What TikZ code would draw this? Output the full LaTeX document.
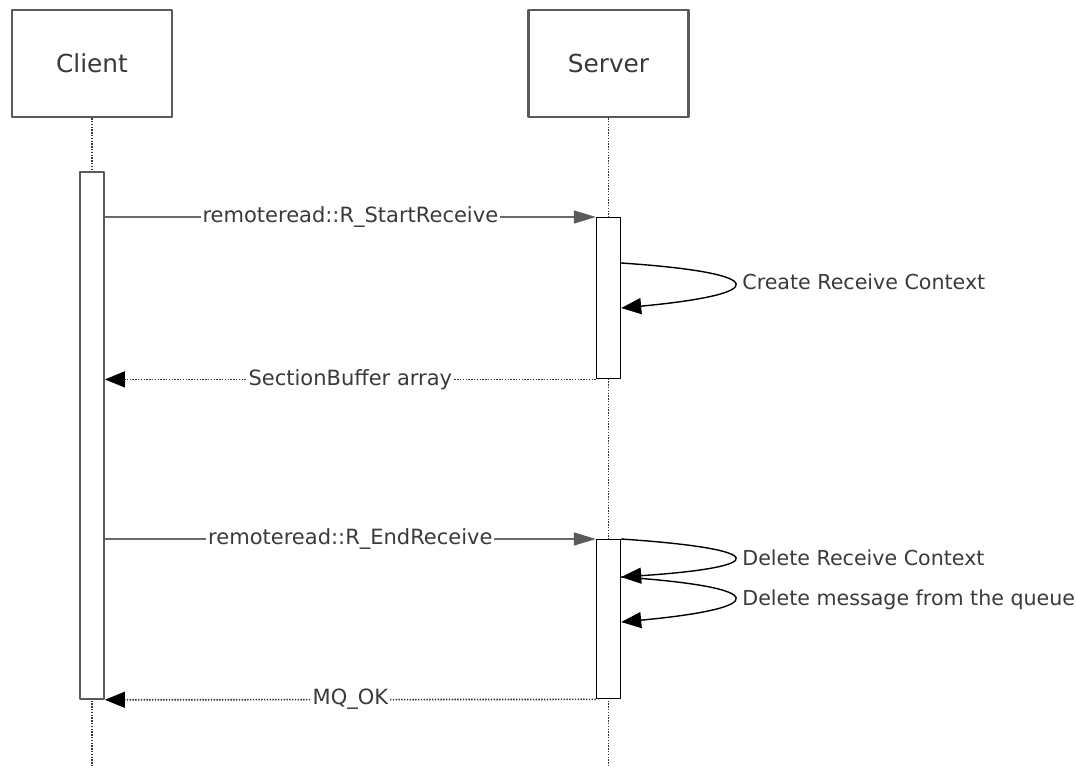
\documentclass[tikz,border=0pt]{standalone}
\usepackage{fontspec}
\setmainfont{DejaVu Sans}
\usepackage{tikz}
\usetikzlibrary{positioning}
\usetikzlibrary{arrows.meta}
\definecolor{txtgray}{HTML}{3A3A3A}
\definecolor{boxgray}{HTML}{5A5A5A}
\definecolor{linegray}{HTML}{6A6A6A}

\begin{document}
\begin{tikzpicture}[x=0.5pt,y=-0.5pt,line join=round,
  actor/.style={draw=boxgray,line width=1.1pt,fill=white,minimum width=80pt,minimum height=53.5pt,inner sep=0pt,text=txtgray,font=\fontsize{12.4}{15}\selectfont},
  bar/.style={draw=black,line width=0.7pt,fill=white,minimum width=12pt,inner sep=0pt,anchor=north},
  lifeline/.style={draw=black!80,line width=0.8pt,dash pattern=on 0.7pt off 0.7pt},
  call/.style={draw=linegray,line width=0.7pt,-{Triangle[length=11pt,width=6.5pt,color=boxgray]}},
  reply/.style={draw=black!80,line width=0.8pt,dash pattern=on 0.7pt off 0.7pt,-{Triangle[length=10pt,width=8pt,color=black]}},
  self/.style={draw=black,line width=0.7pt,-{Triangle[length=10pt,width=8pt,color=black]}},
  msg/.style={fill=white,inner sep=1pt,text=txtgray,font=\fontsize{10.5}{12}\selectfont},
  note/.style={anchor=west,inner sep=4pt,text=txtgray,font=\fontsize{10.3}{12}\selectfont}]
\useasboundingbox (0,0) rectangle (1076,767);
\node[actor] (client) at (92,63.5) {Client};
\node[actor] (server) at (608.5,63.5) {Server};
\coordinate (cend) at (92,767);
\coordinate (send) at (608.5,767);
\draw[lifeline] (client.south) -- (cend);
\draw[lifeline] (server.south) -- (send);
\node[bar,draw=boxgray,line width=0.9pt,minimum height=263.5pt] (cact) at (92,171) {};
\node[bar,minimum height=80.5pt] (sact1) at (608.5,217) {};
\node[bar,minimum height=79.5pt] (sact2) at (608.5,539) {};
\draw[call] (cact.east |- sact1.north) -- node[msg] {remoteread::R\_StartReceive} (sact1.north west);
\draw[self] ([yshift=-23pt]sact1.north east) .. controls +(75pt,-5pt) and +(75pt,7pt) .. ([yshift=-45.5pt]sact1.north east)
  node[note,pos=0.5,yshift=1pt] {Create Receive Context};
\draw[reply] (sact1.south west) -- node[msg] {SectionBuffer array} (cact.east |- sact1.south);
\draw[call] (cact.east |- sact2.north) -- node[msg] {remoteread::R\_EndReceive} (sact2.north west);
\draw[self] (sact2.north east) .. controls +(75pt,-5pt) and +(75pt,5pt) .. ([yshift=-19pt]sact2.north east)
  node[note,pos=0.5] {Delete Receive Context};
\draw[self] ([yshift=-19pt]sact2.north east) .. controls +(75pt,-5pt) and +(75pt,7pt) .. ([yshift=-41.5pt]sact2.north east)
  node[note,pos=0.5,yshift=-1pt] {Delete message from the queue};
\draw[reply] (sact2.south west) -- node[msg] {MQ\_OK} (cact.south east);
\end{tikzpicture}
\end{document}
